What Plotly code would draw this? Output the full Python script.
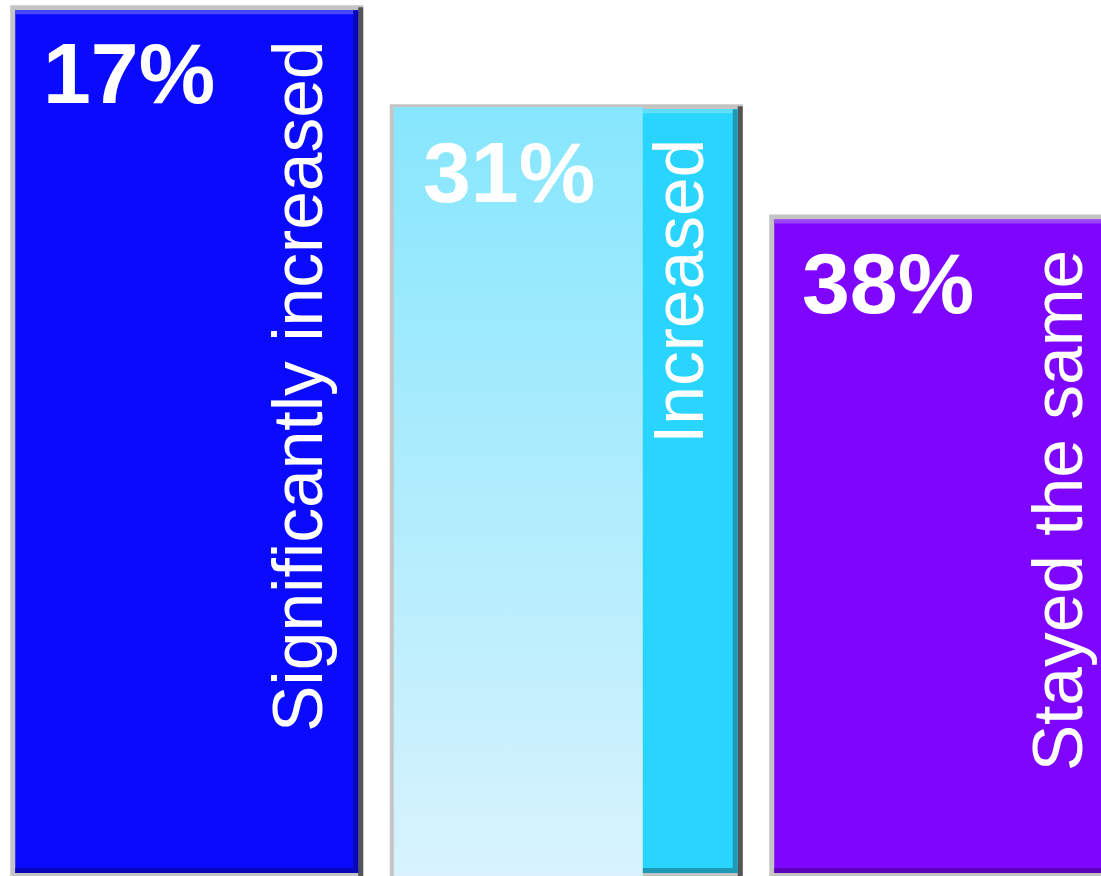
import plotly.graph_objects as go

# ---- data ----
categories = ["Significantly increased", "Increased", "Stayed the same"]
percentages = [17, 31, 38]
bar_heights = [99.4, 88.1, 75.5]   # bar heights (0-100 scale)

# ---- style ----
bar_colors = ["#0A0AFF", "#2AD5FD", "#7E06FE"]
overlay_bottom = "#D8F3FD"
overlay_top = "#86E6FD"

W_PX, H_PX = 1101, 876
SPACING_PX = 379.5
PXX = 1.0 / SPACING_PX          # one pixel in x data units
PXY = 100.0 / H_PX              # one pixel in y data units
BAR_W = 353 * PXX
FONT = "Liberation Sans, Arial, sans-serif"


def mix(hex_color, other, t):
    a = [int(hex_color[i:i + 2], 16) for i in (1, 3, 5)]
    b = [int(other[i:i + 2], 16) for i in (1, 3, 5)]
    c = [round(a[k] * (1 - t) + b[k] * t) for k in range(3)]
    return "#%02X%02X%02X" % tuple(c)


xs = list(range(len(categories)))
light_cols = [mix(c, "#FFFFFF", 0.25) for c in bar_colors]
dark_cols = [mix(c, "#000000", 0.28) for c in bar_colors]

fig = go.Figure()

# outer light-gray frame
fig.add_bar(x=xs, y=bar_heights, width=BAR_W, marker=dict(color="#C4C4C4", line=dict(width=0)),
            hoverinfo="skip")
# dark right shadow
fig.add_bar(x=xs, y=[h - 2 * PXY for h in bar_heights], width=5 * PXX, offset=BAR_W / 2 - 5 * PXX,
            marker=dict(color="#555555", line=dict(width=0)), hoverinfo="skip")
# main fill
inset = 5
fill_w = BAR_W - 2 * inset * PXX
fill_off = -BAR_W / 2 + inset * PXX
fig.add_bar(x=xs, y=[h - (inset + 3) * PXY for h in bar_heights], base=3 * PXY,
            width=fill_w, offset=fill_off,
            marker=dict(color=bar_colors, line=dict(width=0)), hoverinfo="skip")
# inner bevels: top light, bottom dark, right dark
fig.add_bar(x=xs, y=[4 * PXY] * 3, base=[h - (inset + 4) * PXY for h in bar_heights],
            width=fill_w, offset=fill_off,
            marker=dict(color=light_cols, line=dict(width=0)), hoverinfo="skip")
fig.add_bar(x=xs, y=[5 * PXY] * 3, base=3 * PXY,
            width=fill_w, offset=fill_off,
            marker=dict(color=dark_cols, line=dict(width=0)), hoverinfo="skip")
fig.add_bar(x=xs, y=[h - (inset + 3) * PXY for h in bar_heights], base=3 * PXY,
            width=5 * PXX, offset=fill_off + fill_w - 5 * PXX,
            marker=dict(color=dark_cols, line=dict(width=0)), hoverinfo="skip")

# light gradient overlay on the "Increased" bar
k = 1
ox0 = xs[k] - BAR_W / 2 + 4 * PXX
ox1 = xs[k] - BAR_W / 2 + 253 * PXX
oy1 = bar_heights[k] - 3 * PXY
fig.add_trace(go.Scatter(
    x=[ox0, ox1, ox1, ox0, ox0], y=[0, 0, oy1, oy1, 0],
    mode="lines", line=dict(width=0), fill="toself",
    fillgradient=dict(type="vertical", colorscale=[[0, overlay_bottom], [1, overlay_top]]),
    hoverinfo="skip", showlegend=False))

# labels
for i, (cat, pct, h) in enumerate(zip(categories, percentages, bar_heights)):
    fig.add_annotation(x=xs[i] - BAR_W / 2, y=h, xref="x", yref="y",
                       text="<b>%d%%</b>" % pct, showarrow=False,
                       xanchor="left", yanchor="top", xshift=31, yshift=-18,
                       font=dict(family=FONT, size=86, color="white"))
    fig.add_annotation(x=xs[i], y=h, xref="x", yref="y",
                       text=cat, showarrow=False, textangle=-90,
                       xanchor="center", yanchor="top", xshift=112, yshift=-33,
                       font=dict(family=FONT, size=69.5, color="white"))

fig.update_layout(
    width=W_PX, height=H_PX, margin=dict(l=0, r=0, t=0, b=0),
    paper_bgcolor="white", plot_bgcolor="white",
    barmode="overlay", showlegend=False,
    xaxis=dict(visible=False, range=[-186.75 * PXX, (W_PX - 186.75) * PXX], fixedrange=True),
    yaxis=dict(visible=False, range=[0, 100], fixedrange=True),
)

fig.write_html(
    "out.html",
    config={"displayModeBar": False},
    post_script="document.body.style.margin='0px';document.body.style.overflow='hidden';",
)
